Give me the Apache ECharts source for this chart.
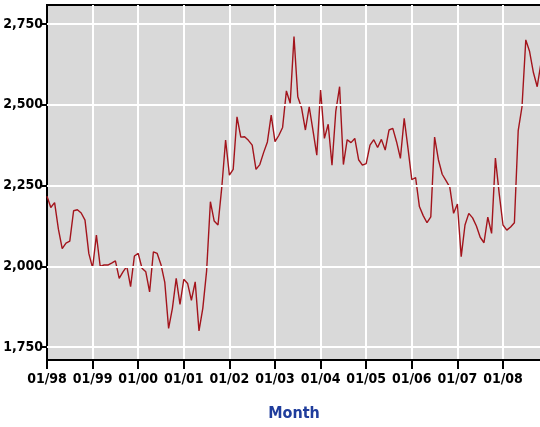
<!DOCTYPE html>
<html>
<head>
<meta charset="utf-8">
<script src="https://cdn.jsdelivr.net/npm/echarts@6/dist/echarts.min.js"></script>
<style>
html,body{margin:0;padding:0;background:#fff;}
#chart{width:540px;height:427px;}
</style>
</head>
<body>
<div id="chart"></div>
<script>
// Monthly values, Jan 1998 .. Nov 2008
const v1998 = [2217, 2182, 2197, 2115, 2055, 2072, 2078, 2172, 2175, 2165, 2143, 2040];
const v1999 = [1995, 2097, 2000, 2004, 2004, 2010, 2017, 1963, 1983, 2000, 1937, 2032];
const v2000 = [2040, 1994, 1983, 1921, 2045, 2040, 2005, 1950, 1808, 1870, 1963, 1882];
const v2001 = [1960, 1947, 1895, 1952, 1800, 1870, 1985, 2200, 2140, 2128, 2245, 2391];
const v2002 = [2282, 2300, 2463, 2400, 2401, 2390, 2375, 2300, 2315, 2352, 2385, 2468];
const v2003 = [2386, 2405, 2430, 2543, 2505, 2711, 2525, 2490, 2422, 2494, 2420, 2344];
const v2004 = [2546, 2396, 2440, 2313, 2480, 2556, 2315, 2392, 2383, 2396, 2330, 2313];
const v2005 = [2318, 2375, 2392, 2368, 2393, 2360, 2422, 2427, 2385, 2334, 2458, 2365];
const v2006 = [2268, 2275, 2185, 2157, 2135, 2153, 2400, 2330, 2285, 2265, 2245, 2164];
const v2007 = [2193, 2030, 2128, 2164, 2150, 2125, 2090, 2073, 2152, 2102, 2335, 2225];
const v2008 = [2128, 2112, 2122, 2135, 2420, 2494, 2701, 2665, 2600, 2556, 2630];

const years = ['98', '99', '00', '01', '02', '03', '04', '05', '06', '07', '08'];
const yTicks = [1750, 2000, 2250, 2500, 2750];

const values = [].concat(v1998, v1999, v2000, v2001, v2002, v2003, v2004, v2005, v2006, v2007, v2008);
const categories = [];
years.forEach(function (y) {
  for (let m = 1; m <= 12; m++) {
    categories.push((m < 10 ? '0' + m : '' + m) + '/' + y);
  }
});
categories.length = values.length;

const isJan = function (idx) { return idx % 12 === 0; };
const FONT = "'Liberation Sans Narrow', 'DejaVu Sans Condensed', 'Roboto Condensed', sans-serif";

const chart = echarts.init(document.getElementById('chart'), null, { renderer: 'canvas' });
chart.setOption({
  animation: false,
  backgroundColor: '#ffffff',
  grid: {
    left: 47, right: -1, top: 5, bottom: 67,
    outerBoundsMode: 'none',
    containLabel: false,
    show: true,
    backgroundColor: '#d9d9d9',
    borderColor: '#000000',
    borderWidth: 2
  },
  xAxis: {
    type: 'category',
    data: categories,
    boundaryGap: false,
    name: 'Month',
    nameLocation: 'middle',
    nameGap: 46,
    nameTextStyle: { color: '#1f3d9c', fontFamily: FONT, fontWeight: 'bold', fontSize: 16 },
    axisLine: { show: true, lineStyle: { color: '#000', width: 2 } },
    axisTick: { show: true, interval: isJan, length: 9, lineStyle: { color: '#000', width: 2 } },
    axisLabel: {
      interval: isJan, margin: 12, color: '#000',
      fontFamily: FONT, fontWeight: 'bold', fontSize: 14,
      hideOverlap: false
    },
    splitLine: { show: true, interval: isJan, lineStyle: { color: '#ffffff', width: 2 } }
  },
  yAxis: {
    type: 'value',
    min: 1710,
    max: 2809,
    axisLine: { show: true, lineStyle: { color: '#000', width: 2 } },
    axisTick: { show: true, customValues: yTicks, length: 5, lineStyle: { color: '#000', width: 2 } },
    axisLabel: {
      customValues: yTicks, margin: 4, color: '#000',
      fontFamily: FONT, fontWeight: 'bold', fontSize: 14,
      formatter: function (v) { return v.toLocaleString('en-US'); }
    },
    splitLine: { show: false }
  },
  series: [
    {
      type: 'line',
      data: [],
      z: 1,
      silent: true,
      markLine: {
        silent: true,
        symbol: ['none', 'none'],
        label: { show: false },
        lineStyle: { color: '#ffffff', width: 2, type: 'solid' },
        data: yTicks.map(function (t) { return { yAxis: t }; })
      }
    },
    {
      type: 'line',
      data: values,
      z: 3,
      showSymbol: false,
      symbol: 'none',
      lineStyle: { color: '#a3141c', width: 1.4 }
    }
  ]
});
</script>
</body>
</html>
